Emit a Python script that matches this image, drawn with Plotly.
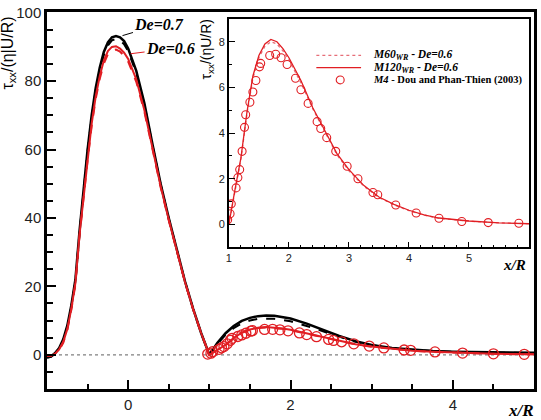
import plotly.graph_objects as go

# ---------------- data ----------------
x_main = [-1.0, -0.95, -0.9, -0.85, -0.8, -0.75, -0.7, -0.65, -0.6, -0.55,
          -0.5, -0.45, -0.4, -0.35, -0.3, -0.25, -0.2, -0.15, -0.1, -0.05,
          0.0, 0.1, 0.2, 0.3, 0.4, 0.5, 0.6, 0.7, 0.8, 0.9, 1.0,
          1.1, 1.2, 1.3, 1.4, 1.5, 1.6, 1.7, 1.8, 1.9, 2.0,
          2.2, 2.4, 2.6, 2.8, 3.0,
          3.25, 3.5, 3.75, 4.0, 4.25, 4.5, 4.75, 5.0, 5.5, 6.0]

m120_de07 = [-0.8, -0.5, 0.5, 2.0, 4.5, 8.5, 14.5, 22.0, 36.0, 48.5,
             60.0, 70.0, 78.0, 84.0, 88.5, 91.3, 92.8, 93.2, 92.8, 91.7,
             89.5, 83.0, 73.5, 61.5, 50.0, 40.0, 30.5, 21.5, 13.5, 6.3, 0.0,
             3.5, 6.3, 8.4, 9.9, 10.8, 11.3, 11.5, 11.4, 11.1, 10.6,
             9.1, 7.3, 5.5, 4.0, 2.9,
             2.0, 1.45, 1.1, 0.9, 0.75, 0.62, 0.52, 0.45, 0.35, 0.28]

m60_de07 = [-0.8, -0.5, 0.4, 1.8, 4.2, 8.0, 14.0, 21.5, 35.5, 48.0,
            59.5, 69.3, 77.3, 83.2, 87.6, 90.4, 91.9, 92.3, 91.9, 90.8,
            88.7, 82.4, 73.1, 61.2, 49.8, 39.8, 30.4, 21.4, 13.4, 6.2, 0.0,
            3.2, 5.8, 7.8, 9.2, 10.0, 10.5, 10.6, 10.5, 10.2, 9.8,
            8.4, 6.8, 5.2, 3.8, 2.8,
            1.95, 1.4, 1.05, 0.85, 0.7, 0.58, 0.5, 0.42, 0.33, 0.26]

m120_de06 = [-0.3, -0.3, 0.3, 1.6, 3.8, 7.5, 13.5, 21.0, 35.0, 46.5,
             57.5, 67.5, 75.5, 81.5, 86.0, 88.8, 90.0, 90.2, 89.5, 88.3,
             86.5, 80.5, 71.5, 60.5, 49.3, 39.5, 30.2, 21.3, 13.4, 6.3, 0.0,
             1.5, 2.9, 4.9, 6.5, 7.4, 7.9, 8.1, 8.0, 7.7, 7.3,
             6.3, 5.1, 4.1, 3.1, 2.4,
             1.7, 1.2, 0.88, 0.62, 0.42, 0.28, 0.2, 0.15, 0.07, 0.03]

m60_de06 = [-0.3, -0.3, 0.2, 1.4, 3.5, 7.2, 13.2, 20.6, 34.5, 46.0,
            56.9, 66.8, 74.8, 80.7, 85.1, 87.9, 89.0, 89.2, 88.6, 87.4,
            85.7, 79.8, 71.0, 60.1, 49.0, 39.3, 30.0, 21.2, 13.3, 6.2, 0.0,
            1.45, 2.85, 4.8, 6.4, 7.3, 7.8, 8.0, 7.9, 7.6, 7.2,
            6.2, 5.05, 4.05, 3.05, 2.35,
            1.67, 1.18, 0.86, 0.6, 0.41, 0.27, 0.19, 0.14, 0.07, 0.03]

x_m4 = [0.98, 1.02, 1.04, 1.12, 1.15, 1.18, 1.22, 1.26, 1.28, 1.35, 1.40, 1.45,
        1.51, 1.53, 1.68, 1.78, 1.87, 1.97, 2.11, 2.20, 2.32, 2.47, 2.53, 2.63,
        2.78, 2.97, 3.15, 3.40, 3.48, 3.78, 4.12, 4.50, 4.88, 5.32, 5.83]
y_m4 = [0.2, 0.47, 0.9, 1.6, 2.05, 2.4, 3.2, 4.25, 4.8, 5.35, 5.8, 6.3,
        6.9, 7.05, 7.4, 7.45, 7.3, 7.0, 6.4, 5.9, 5.3, 4.5, 4.2, 3.8,
        3.2, 2.55, 2.0, 1.4, 1.3, 0.85, 0.5, 0.27, 0.13, 0.08, 0.05]

main_xticks = [0, 2, 4]
main_yticks = [0, 20, 40, 60, 80, 100]
inset_xticks = [1, 2, 3, 4, 5]
inset_yticks = [0, 2, 4, 6, 8]

# ---------------- styling ----------------
W, H = 541, 420
ML, MR, MT, MB = 47, 4, 6, 31
PW, PH = W - ML - MR, H - MT - MB
RED = "rgb(225,30,35)"
PINK = "rgb(230,110,120)"
SERIF = "Liberation Serif, Times New Roman, serif"
SANS = "Liberation Sans, Arial, sans-serif"


def px(xp):
    return (xp - ML) / PW


def py(yp):
    return (H - MB - yp) / PH


fig = go.Figure()

fig.add_trace(go.Scatter(x=x_main, y=m60_de07, mode="lines",
                         line=dict(color="black", width=2, dash="dash"),
                         xaxis="x", yaxis="y", showlegend=False))
fig.add_trace(go.Scatter(x=x_main, y=m120_de07, mode="lines",
                         line=dict(color="black", width=2.5),
                         xaxis="x", yaxis="y", showlegend=False))
fig.add_trace(go.Scatter(x=x_main, y=m60_de06, mode="lines",
                         line=dict(color=RED, width=2, dash="dash"),
                         xaxis="x", yaxis="y", showlegend=False))
fig.add_trace(go.Scatter(x=x_main, y=m120_de06, mode="lines",
                         line=dict(color=RED, width=2),
                         xaxis="x", yaxis="y", showlegend=False))
fig.add_trace(go.Scatter(x=x_m4, y=y_m4, mode="markers",
                         marker=dict(symbol="circle-open", size=10, color=RED,
                                     line=dict(width=1.3, color=RED)),
                         xaxis="x", yaxis="y", showlegend=False))

fig.add_trace(go.Scatter(x=x_main, y=m60_de06, mode="lines",
                         line=dict(color=PINK, width=1.3, dash="dot"),
                         xaxis="x2", yaxis="y2", showlegend=False))
fig.add_trace(go.Scatter(x=x_main, y=m120_de06, mode="lines",
                         line=dict(color=RED, width=1.3),
                         xaxis="x2", yaxis="y2", showlegend=False))
fig.add_trace(go.Scatter(x=x_m4, y=y_m4, mode="markers",
                         marker=dict(symbol="circle-open", size=8, color=RED,
                                     line=dict(width=1.1, color=RED)),
                         xaxis="x2", yaxis="y2", showlegend=False))

ix0, ix1 = px(230), px(532)
iy0, iy1 = py(245), py(13)

shapes = [
    dict(type="rect", xref="paper", yref="paper", x0=ix0, x1=ix1, y0=iy0, y1=iy1,
         fillcolor="white", line=dict(width=0), layer="below"),
    dict(type="line", xref="x domain", yref="y", x0=0, x1=1, y0=0, y1=0,
         line=dict(color="gray", width=1.2, dash="dot"), layer="below"),
    dict(type="line", xref="x2 domain", yref="y2", x0=0, x1=1, y0=0, y1=0,
         line=dict(color="gray", width=1, dash="dot"), layer="below"),
    dict(type="line", xref="paper", yref="paper", x0=px(318), x1=px(363),
         y0=py(50), y1=py(50), line=dict(color=PINK, width=1.3, dash="dot")),
    dict(type="line", xref="paper", yref="paper", x0=px(318), x1=px(363),
         y0=py(62.5), y1=py(62.5), line=dict(color=RED, width=1.3)),
    dict(type="circle", xref="paper", yref="paper", x0=px(338), x1=px(346),
         y0=py(79), y1=py(71), line=dict(color=RED, width=1.1)),
]

LEG = 10.5
annotations = [
    dict(text="<b><i>De=0.7</i></b>", x=-0.07, y=93.3, xref="x", yref="y",
         ax=37, ay=-11, showarrow=True, arrowhead=0, arrowwidth=1, arrowcolor="black",
         font=dict(family=SERIF, size=16, color="black")),
    dict(text="<b><i>De=0.6</i></b>", x=0.03, y=88.0, xref="x", yref="y",
         ax=40, ay=-5, showarrow=True, arrowhead=0, arrowwidth=1, arrowcolor=RED,
         font=dict(family=SERIF, size=16, color="black")),
    dict(text="τ<sub>xx</sub>/(η|U/R)", textangle=-90, xref="paper", yref="paper",
         x=px(8), y=py(48), showarrow=False, xanchor="center", yanchor="middle",
         font=dict(family=SANS, size=16, color="black")),
    dict(text="<b><i>x/R</i></b>", xref="paper", yref="paper", x=px(524), y=py(411),
         showarrow=False, xanchor="center", yanchor="middle",
         font=dict(family=SERIF, size=17, color="black")),
    dict(text="τ<sub>xx</sub>/(ηU/R)", textangle=-90, xref="paper", yref="paper",
         x=px(208), y=py(44), showarrow=False, xanchor="center", yanchor="middle",
         font=dict(family=SANS, size=14, color="black")),
    dict(text="<b><i>x/R</i></b>", xref="paper", yref="paper", x=px(517), y=py(263),
         showarrow=False, xanchor="center", yanchor="middle",
         font=dict(family=SERIF, size=15, color="black")),
    dict(text="<b><i>M60</i><sub><i>WR</i></sub> - <i>De=0.6</i></b>", xref="paper", yref="paper",
         x=px(373), y=py(50), showarrow=False, xanchor="left", yanchor="middle",
         font=dict(family=SERIF, size=LEG + 1, color="black")),
    dict(text="<b><i>M120</i><sub><i>WR</i></sub> - <i>De=0.6</i></b>", xref="paper", yref="paper",
         x=px(373), y=py(63), showarrow=False, xanchor="left", yanchor="middle",
         font=dict(family=SERIF, size=LEG + 1, color="black")),
    dict(text="<b><i>M4</i> - Dou and Phan-Thien (2003)</b>", xref="paper", yref="paper",
         x=px(373), y=py(75), showarrow=False, xanchor="left", yanchor="middle",
         font=dict(family=SERIF, size=LEG, color="black")),
]

axis_common = dict(showgrid=False, zeroline=False, showline=True, linecolor="black",
                   mirror=True, ticks="inside", tickcolor="black",
                   ticklabeloverflow="allow")

fig.update_layout(
    width=W, height=H,
    margin=dict(l=ML, r=MR, t=MT, b=MB),
    paper_bgcolor="white", plot_bgcolor="white",
    xaxis=dict(domain=[0, 1], range=[-1, 5], tickvals=main_xticks,
               ticklen=9, tickwidth=2, linewidth=2.5,
               minor=dict(dtick=0.5, tick0=0, ticks="inside", ticklen=5, tickwidth=1.5, tickcolor="black"),
               tickfont=dict(family=SANS, size=15, color="#222"), anchor="y", **axis_common),
    yaxis=dict(domain=[0, 1], range=[-10, 100.2], tickvals=main_yticks,
               ticklen=9, tickwidth=2, linewidth=2.5,
               minor=dict(dtick=5, tick0=0, ticks="inside", ticklen=6, tickwidth=1.5, tickcolor="black"),
               tickfont=dict(family=SANS, size=15, color="#222"), anchor="x", **axis_common),
    xaxis2=dict(domain=[ix0, ix1], range=[1, 6], tickvals=inset_xticks,
                ticklen=6, tickwidth=1.3, linewidth=1.5,
                minor=dict(dtick=0.2, tick0=0, ticks="inside", ticklen=3, tickwidth=1, tickcolor="black"),
                tickfont=dict(family=SANS, size=11, color="#222"), anchor="y2", **axis_common),
    yaxis2=dict(domain=[iy0, iy1], range=[-1, 9], tickvals=inset_yticks,
                ticklen=6, tickwidth=1.3, linewidth=1.5,
                minor=dict(dtick=1, tick0=0, ticks="inside", ticklen=3, tickwidth=1, tickcolor="black"),
                tickfont=dict(family=SANS, size=11, color="#222"), anchor="x2", **axis_common),
    shapes=shapes,
    annotations=annotations,
)

fig.write_html("out.html")
